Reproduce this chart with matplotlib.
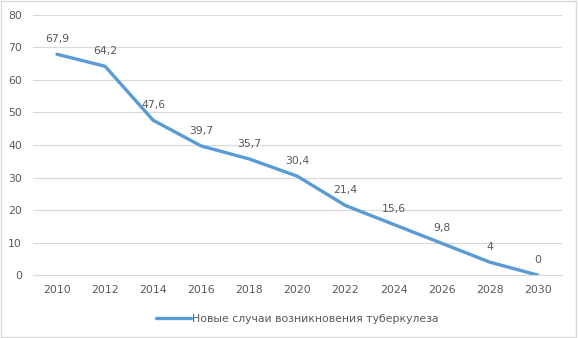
import matplotlib.pyplot as plt
from matplotlib.patches import Rectangle

years = [2010, 2012, 2014, 2016, 2018, 2020, 2022, 2024, 2026, 2028, 2030]
values = [67.9, 64.2, 47.6, 39.7, 35.7, 30.4, 21.4, 15.6, 9.8, 4, 0]
labels = ["67,9", "64,2", "47,6", "39,7", "35,7", "30,4", "21,4", "15,6", "9,8", "4", "0"]
series_name = "Новые случаи возникновения туберкулеза"

plt.rcParams['font.family'] = ['DejaVu Sans']
grey = '#595959'
blue = '#5B9BD5'

fig = plt.figure(figsize=(5.78, 3.38), dpi=100)
ax = fig.add_axes([0.057, 0.186, 0.915, 0.77])

x = list(range(len(years)))
ax.plot(x, values, color=blue, linewidth=2.4, solid_capstyle='round',
        solid_joinstyle='round', label=series_name, zorder=3)

for xi, v, lab in zip(x, values, labels):
    ax.annotate(lab, (xi, v), xytext=(0, 7.5), textcoords='offset points',
                ha='center', va='bottom', fontsize=7.8, color=grey)

ax.set_xlim(-0.5, len(years) - 0.5)
ax.set_ylim(0, 80)
ax.set_yticks(range(0, 81, 10))
ax.set_xticks(x)
ax.set_xticklabels([str(y) for y in years])
ax.tick_params(axis='both', length=0, labelsize=7.8, labelcolor=grey)
ax.tick_params(axis='y', pad=8)
ax.tick_params(axis='x', pad=7)
ax.grid(axis='y', color='#D9D9D9', linewidth=0.8)
ax.set_axisbelow(True)
for side in ['top', 'right', 'left']:
    ax.spines[side].set_visible(False)
ax.spines['bottom'].set_color('#D9D9D9')

ax.legend(loc='upper center', bbox_to_anchor=(0.5, -0.11), frameon=False,
          fontsize=7.8, labelcolor=grey, handlelength=3.2, handletextpad=0.1)

fig.patches.append(Rectangle((0.002, 0.003), 0.995, 0.993, transform=fig.transFigure,
                             fill=False, edgecolor='#D9D9D9', linewidth=1))

fig.savefig('out.png', dpi=100)
